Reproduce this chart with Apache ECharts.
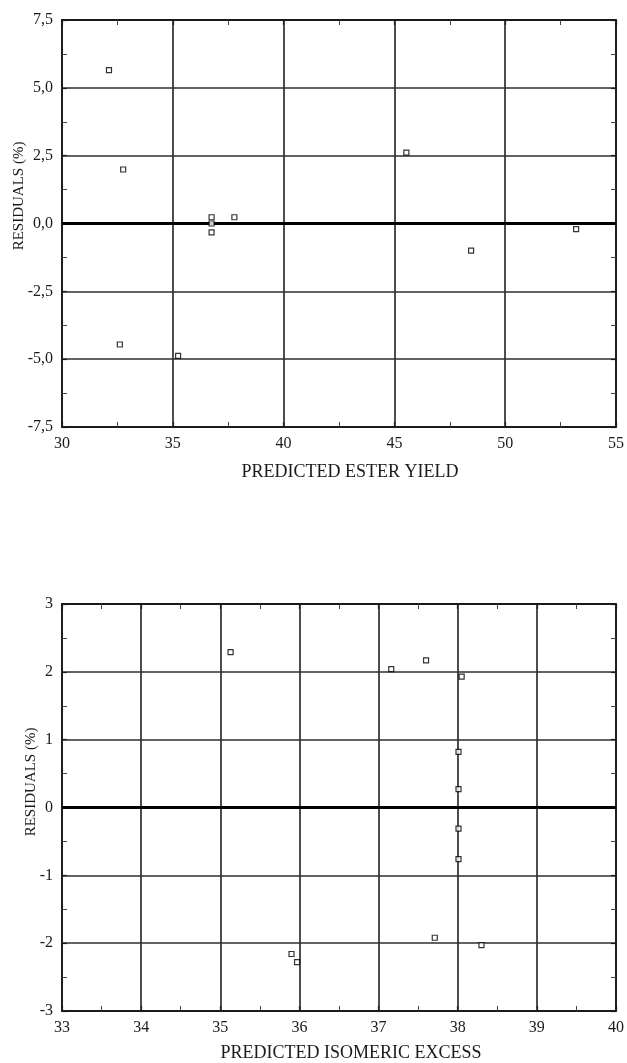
<!DOCTYPE html>
<html>
<head>
<meta charset="utf-8">
<script src="https://cdn.jsdelivr.net/npm/echarts@6/dist/echarts.min.js"></script>
<style>
  html, body { margin: 0; padding: 0; background: #fff; }
  #chart { width: 627px; height: 1063px; }
</style>
</head>
<body>
<div id="chart"></div>
<script>
// top panel: residuals vs predicted ester yield
const esterX = [32.12, 32.76, 36.75, 36.75, 36.75, 37.78, 32.61, 35.24, 45.54, 48.46, 53.2]
const esterRes = [5.65, 1.99, 0.23, 0.0, -0.33, 0.23, -4.46, -4.88, 2.61, -1.0, -0.21]

// bottom panel: residuals vs predicted isomeric excess
const isoX = [35.13, 37.16, 37.6, 38.05, 38.01, 38.01, 38.01, 38.01, 37.71, 38.3, 35.9, 35.97]
const isoRes = [2.29, 2.04, 2.17, 1.93, 0.82, 0.27, -0.31, -0.76, -1.92, -2.03, -2.16, -2.28]

const esterXRange = [30, 55, 5]
const esterYRange = [-7.5, 7.5, 2.5]
const isoXRange = [33, 40, 1]
const isoYRange = [-3, 3, 1]

const FONT = '"Liberation Serif", "DejaVu Serif", serif'
const INK = '#1a1a1a'
const GRID = '#2e2e2e'

const commaFmt = (v) => v.toFixed(1).replace('.', ',')

const makeAxis = (range, grid, position, labels, fmt) => {
  return {
    type: 'value',
    gridIndex: grid,
    position: position,
    min: range[0],
    max: range[1],
    interval: range[2],
    axisLine: { show: true, onZero: false, lineStyle: { color: INK, width: 1.8 } },
    axisTick: { show: true, inside: true, length: 5, lineStyle: { color: INK, width: 1.2 } },
    minorTick: { show: true, splitNumber: 2, length: 5, lineStyle: { color: '#444', width: 1 } },
    splitLine: { show: labels, lineStyle: { color: GRID, width: 1.7 } },
    axisLabel: {
      show: labels,
      margin: 9,
      color: INK,
      fontFamily: FONT,
      fontSize: 16,
      formatter: fmt
    }
  }
}

const zeroLine = {
  silent: true,
  symbol: 'none',
  label: { show: false },
  lineStyle: { color: '#000', width: 3, type: 'solid' },
  data: [{ yAxis: 0 }]
}

const pointStyle = { color: '#fff', borderColor: '#000', borderWidth: 1.2 }

const chart = echarts.init(document.getElementById('chart'))
chart.setOption({
  backgroundColor: '#fff',
  animation: false,
  grid: [
    { left: 62, top: 20, width: 557, height: 407 },
    { left: 62, top: 604, width: 557, height: 407 }
  ],
  xAxis: [
    makeAxis(esterXRange, 0, 'bottom', true, (v) => String(v)),
    makeAxis(esterXRange, 0, 'top', false),
    makeAxis(isoXRange, 1, 'bottom', true, (v) => String(v)),
    makeAxis(isoXRange, 1, 'top', false)
  ],
  yAxis: [
    makeAxis(esterYRange, 0, 'left', true, commaFmt),
    makeAxis(esterYRange, 0, 'right', false),
    makeAxis(isoYRange, 1, 'left', true, (v) => String(v)),
    makeAxis(isoYRange, 1, 'right', false)
  ],
  graphic: [
    {
      type: 'text', x: 19, y: 196, rotation: Math.PI / 2,
      style: { text: 'RESIDUALS (%)', font: '15px ' + FONT, fill: INK, align: 'center', verticalAlign: 'middle' }
    },
    {
      type: 'text', x: 350, y: 472,
      style: { text: 'PREDICTED ESTER YIELD', font: '18px ' + FONT, fill: INK, align: 'center', verticalAlign: 'middle' }
    },
    {
      type: 'text', x: 31, y: 782, rotation: Math.PI / 2,
      style: { text: 'RESIDUALS (%)', font: '15px ' + FONT, fill: INK, align: 'center', verticalAlign: 'middle' }
    },
    {
      type: 'text', x: 351, y: 1053,
      style: { text: 'PREDICTED ISOMERIC EXCESS', font: '18px ' + FONT, fill: INK, align: 'center', verticalAlign: 'middle' }
    }
  ],
  series: [
    {
      type: 'scatter',
      xAxisIndex: 0,
      yAxisIndex: 0,
      symbol: 'rect',
      symbolSize: 5,
      itemStyle: pointStyle,
      data: esterX.map((x, i) => [x, esterRes[i]]),
      markLine: zeroLine,
      z: 5
    },
    {
      type: 'scatter',
      xAxisIndex: 2,
      yAxisIndex: 2,
      symbol: 'rect',
      symbolSize: 5,
      itemStyle: pointStyle,
      data: isoX.map((x, i) => [x, isoRes[i]]),
      markLine: zeroLine,
      z: 5
    }
  ]
})
</script>
</body>
</html>
